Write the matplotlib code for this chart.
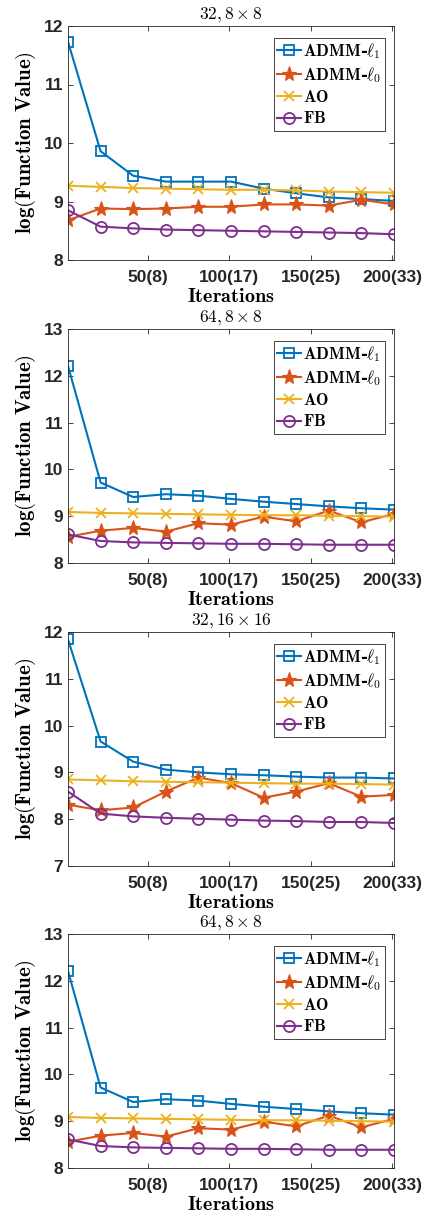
import numpy as np
import matplotlib
matplotlib.use('Agg')
import matplotlib.pyplot as plt

plt.rcParams['mathtext.fontset'] = 'cm'
plt.rcParams['font.family'] = 'Liberation Sans'

# iterations at which the objective was recorded
iters = [1, 21, 41, 61, 81, 101, 121, 141, 161, 181, 201]
tick_pos = [50, 100, 150, 200]
tick_lbl = ['50(8)', '100(17)', '150(25)', '200(33)']

# panel 1: 32, 8x8
p1_admm_l1 = [11.73, 9.86, 9.44, 9.34, 9.34, 9.34, 9.22, 9.14, 9.07, 9.04, 9.01]
p1_admm_l0 = [8.68, 8.88, 8.87, 8.88, 8.91, 8.91, 8.95, 8.95, 8.93, 9.03, 8.95]
p1_ao = [9.27, 9.25, 9.23, 9.22, 9.21, 9.20, 9.20, 9.19, 9.17, 9.16, 9.15]
p1_fb = [8.85, 8.57, 8.54, 8.52, 8.51, 8.50, 8.49, 8.48, 8.47, 8.46, 8.44]

# panel 2 (and 4): 64, 8x8
p2_admm_l1 = [12.21, 9.72, 9.41, 9.47, 9.44, 9.37, 9.31, 9.26, 9.21, 9.17, 9.14]
p2_admm_l0 = [8.56, 8.69, 8.75, 8.67, 8.85, 8.82, 8.99, 8.89, 9.12, 8.87, 9.05]
p2_ao = [9.09, 9.07, 9.06, 9.05, 9.04, 9.03, 9.02, 9.02, 9.01, 9.00, 8.99]
p2_fb = [8.61, 8.47, 8.44, 8.43, 8.42, 8.41, 8.41, 8.40, 8.39, 8.39, 8.39]

# panel 3: 32, 16x16
p3_admm_l1 = [11.84, 9.66, 9.23, 9.06, 9.00, 8.96, 8.94, 8.91, 8.89, 8.89, 8.87]
p3_admm_l0 = [8.31, 8.19, 8.25, 8.59, 8.89, 8.77, 8.46, 8.59, 8.77, 8.48, 8.52]
p3_ao = [8.85, 8.83, 8.81, 8.80, 8.79, 8.78, 8.77, 8.76, 8.76, 8.75, 8.74]
p3_fb = [8.59, 8.12, 8.06, 8.03, 8.01, 7.99, 7.97, 7.96, 7.94, 7.94, 7.92]

titles = [r'$32, 8\times 8$', r'$64, 8\times 8$', r'$32, 16\times 16$', r'$64, 8\times 8$']
panels = [
  (p1_admm_l1, p1_admm_l0, p1_ao, p1_fb),
  (p2_admm_l1, p2_admm_l0, p2_ao, p2_fb),
  (p3_admm_l1, p3_admm_l0, p3_ao, p3_fb),
  (p2_admm_l1, p2_admm_l0, p2_ao, p2_fb),
]
ylims = [(8, 12), (8, 13), (7, 12), (8, 13)]

labels = [r'$\mathbf{ADMM}$-$\ell_1$', r'$\mathbf{ADMM}$-$\ell_0$', r'$\mathbf{AO}$', r'$\mathbf{FB}$']
colors = ['#0072BD', '#D95319', '#EDB120', '#7E2F8E']
styles = [
  dict(marker='s', ms=7, mfc='none', mew=1.3),
  dict(marker='*', ms=11, mew=0.8),
  dict(marker='x', ms=7, mew=1.3),
  dict(marker='o', ms=8, mfc='none', mew=1.3),
]

W, H = 428, 1217
fig = plt.figure(figsize=(W/100.0, H/100.0), dpi=100)
tops = [26, 329, 632, 934]
ax_h = 234
for i in range(4):
  top = tops[i]
  ax = fig.add_axes([68.0/W, (H - top - ax_h)/float(H), 326.0/W, ax_h/float(H)])
  for j in range(4):
    ax.plot(iters, panels[i][j], color=colors[j], lw=1.5, label=labels[j], **styles[j])
  ax.set_xlim(1, 201)
  ax.set_ylim(*ylims[i])
  ax.set_yticks(np.arange(ylims[i][0], ylims[i][1] + 1))
  ax.set_xticks(tick_pos)
  ax.set_xticklabels(tick_lbl)
  for lab in ax.get_xticklabels() + ax.get_yticklabels():
    lab.set_fontweight('bold')
    lab.set_fontsize(12.5)
    lab.set_color('0.15')
  ax.tick_params(direction='in', top=True, right=True, length=3.5, width=0.6, color='0.15')
  ax.tick_params(axis='x', pad=7)
  ax.tick_params(axis='y', pad=3.5)
  for s in ax.spines.values():
    s.set_linewidth(0.6)
    s.set_color('0.15')
  ax.set_title(titles[i], fontsize=12.5, pad=5)
  ax.set_xlabel(r'$\mathbf{Iterations}$', fontsize=14.5, labelpad=1.5)
  ax.set_ylabel(r'$\mathbf{log(Function\ Value)}$', fontsize=15, labelpad=4)
  leg = ax.legend(loc='upper right', bbox_to_anchor=(0.9715, 0.949),
                  prop={'family': 'DejaVu Serif', 'weight': 'bold', 'size': 12},
                  handlelength=1.4, handletextpad=0.15, labelspacing=0.25,
                  borderpad=0.2, borderaxespad=0.0, fancybox=False, framealpha=1)
  leg.get_frame().set_edgecolor('0.15')
  leg.get_frame().set_linewidth(0.6)

plt.savefig('out.png', dpi=100)
